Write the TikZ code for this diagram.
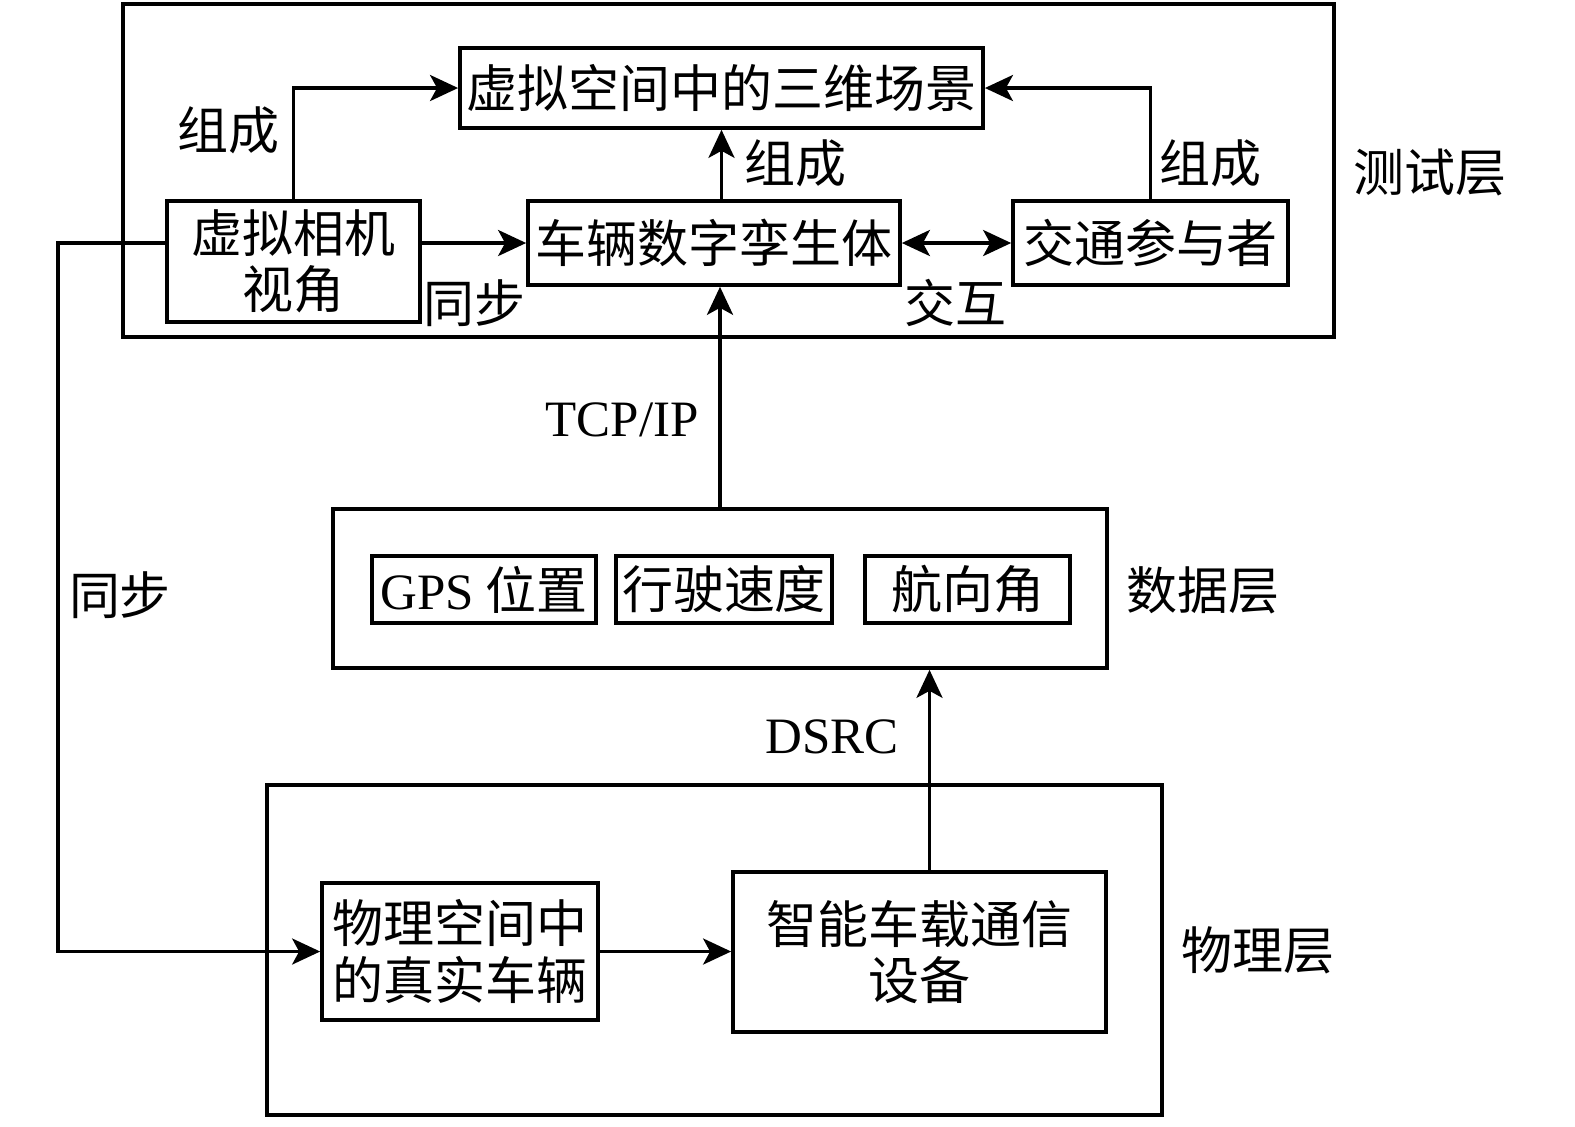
\documentclass[tikz,border=0pt]{standalone}
\usepackage{fontspec}
\setmainfont{Noto Sans CJK SC}
\newfontfamily\latin{Liberation Serif}
\usetikzlibrary{arrows.meta, positioning}

\tikzset{
	box/.style = {draw, line width = 1pt, inner sep = 0pt, align = center},
	frame/.style = {draw, line width = 1pt},
	tip/.tip = {Stealth[length = 0.28cm, width = 0.26cm, inset = 0.07cm]},
	arr/.style = {line width = 1pt, -tip},
	dblarr/.style = {line width = 1pt, tip-tip},
	lbl/.style = {inner sep = 0pt}
}

\begin{document}
\begin{tikzpicture}[x = 0.01cm, y = -0.01cm, font = \fontsize{14.5pt}{16pt}\selectfont]
			\useasboundingbox (0,0) rectangle (1575,1126);

			% test layer
			\begin{scope}
				\draw[frame] (123,4) rectangle (1334,337);
				\node[box, minimum width = 5.23cm, minimum height = 0.80cm] (scene) at (721.5,88) {虚拟空间中的三维场景};
				\node[box, minimum width = 2.53cm, minimum height = 1.21cm] (cam) at (293.5,261.5) {虚拟相机\\视角};
				\node[box, minimum width = 3.72cm, minimum height = 0.84cm] (twin) at (714,243) {车辆数字孪生体};
				\node[box, minimum width = 2.75cm, minimum height = 0.84cm] (traffic) at (1150.5,243) {交通参与者};
				\node[lbl] (testlbl) at (1430,172) {测试层};
			\end{scope}

			% data layer
			\begin{scope}
				\node[box, minimum width = 7.74cm, minimum height = 1.59cm] (data) at (720,588.5) {};
				\node[box, minimum width = 2.24cm, minimum height = 0.67cm] (gps) at (484,589.5) {{\latin GPS} 位置};
				\node[box, minimum width = 2.16cm, minimum height = 0.67cm] (speed) at (724,589.5) {行驶速度};
				\node[box, minimum width = 2.05cm, minimum height = 0.67cm] (head) at (967.5,589.5) {航向角};
				\node[lbl] (datalbl) at (1203,590) {数据层};
			\end{scope}

			% physical layer
			\begin{scope}
				\draw[frame] (267,785) rectangle (1162,1115);
				\node[box, minimum width = 2.76cm, minimum height = 1.37cm] (real) at (460,951.5) {物理空间中\\的真实车辆};
				\node[box, minimum width = 3.73cm, minimum height = 1.60cm] (dev) at (919.5,952) {智能车载通信\\设备};
				\node[lbl] (physlbl) at (1258,950) {物理层};
			\end{scope}

			% connectors
			\draw[arr] (cam.north) |- (scene.west);
			\draw[arr] (traffic.north) |- (scene.east);
			\draw[arr] (scene.south |- twin.north) -- (scene.south);
			\draw[arr] (cam.east |- twin.west) -- (twin.west);
			\draw[dblarr] (twin.east) -- (traffic.west);
			\draw[arr] (data.north) -- (data.north |- twin.south);
			\draw[arr] ([xshift = 0.1cm]dev.north) -- ([xshift = 0.1cm]dev.north |- data.south);
			\draw[arr] (real.east) -- (real.east -| dev.west);

			\coordinate (bend) at (58,243);
			\draw[arr] (cam.west |- twin.west) -- (bend) |- (real.west);

			% labels
			\node[lbl] (madeL) at (228,130) {组成};
			\node[lbl] (madeM) at (795,163) {组成};
			\node[lbl] (madeR) at (1210,163) {组成};
			\node[lbl] (syncT) at (474,303) {同步};
			\node[lbl] (inter) at (955,303) {交互};
			\node[lbl] (tcp) at (622,420) {\latin TCP/IP};
			\node[lbl] (dsrc) at (832,737) {\latin DSRC};
			\node[lbl] (syncL) at (120,595) {同步};
		\end{tikzpicture}
\end{document}
